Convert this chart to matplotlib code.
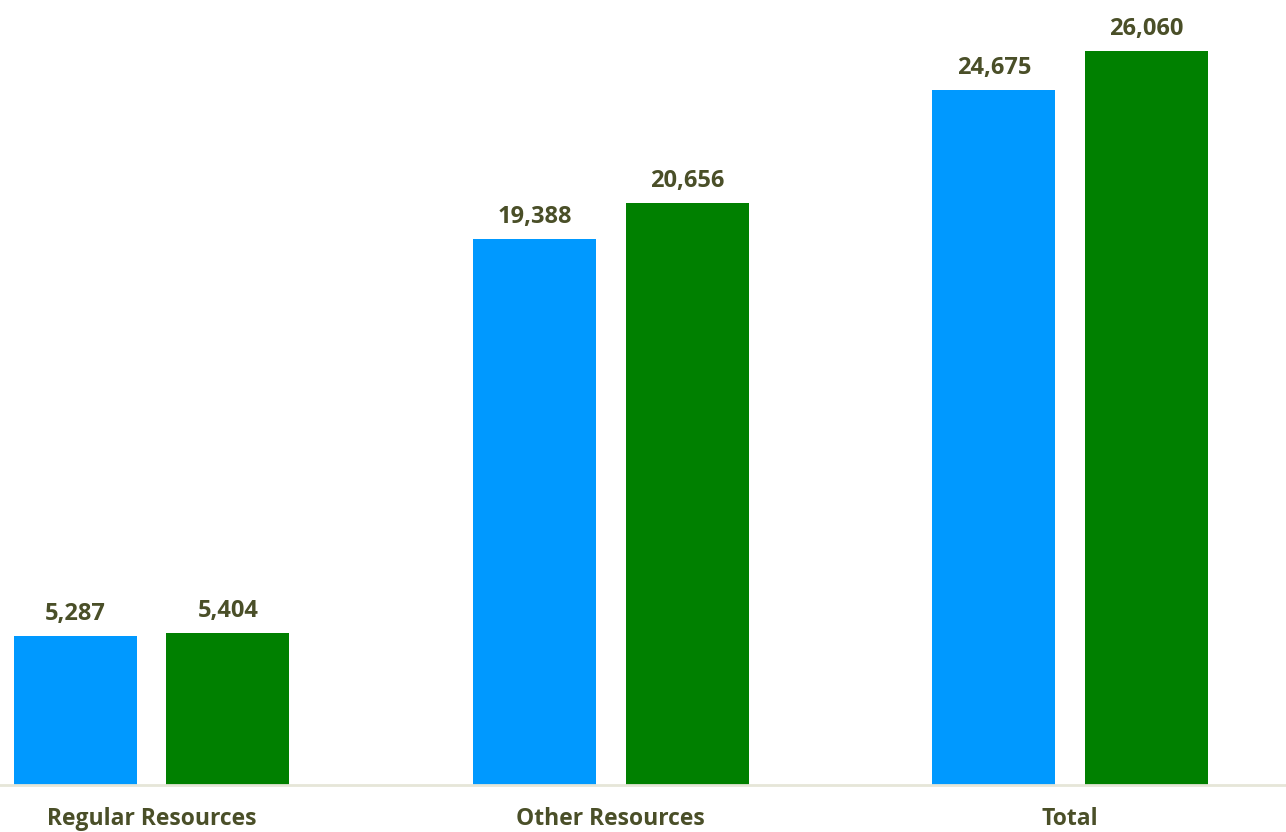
import matplotlib
matplotlib.use("Agg")
import matplotlib.pyplot as plt
import numpy as np

categories = ["Regular Resources", "Other Resources", "Total"]
series_a = [5287, 19388, 24675]
series_b = [5404, 20656, 26060]

blue = "#0099FF"
green = "#008000"
text_color = "#4A4F28"

plt.rcParams['font.family'] = ['Open Sans', 'DejaVu Sans']

fig = plt.figure(figsize=(12.86, 8.32), dpi=100)
ax = fig.add_axes([0, 47/832, 1, 785/832])

x = np.arange(len(categories))
w = 0.268
off = 0.166
ax.bar(x - off, series_a, width=w, color=blue, linewidth=0)
ax.bar(x + off, series_b, width=w, color=green, linewidth=0)

for xi, v in zip(x - off, series_a):
    ax.annotate(f"{v:,}", (xi, v), xytext=(0, 11.5), textcoords="offset points",
                ha="center", va="baseline", fontsize=17, fontweight="bold", color=text_color)
for xi, v in zip(x + off, series_b):
    ax.annotate(f"{v:,}", (xi, v), xytext=(0, 11.5), textcoords="offset points",
                ha="center", va="baseline", fontsize=17, fontweight="bold", color=text_color)

for xi, c in zip(x, categories):
    ax.text(xi, -40/785, c, transform=ax.get_xaxis_transform(), ha="center", va="baseline",
            fontsize=16.5, fontweight="bold", color=text_color, clip_on=False)

ax.set_xlim(-0.33, 2.47)
ax.set_ylim(0, 27870)
ax.axhline(0, color="#E6E6D8", linewidth=2, clip_on=False)
for s in ax.spines.values():
    s.set_visible(False)
ax.set_xticks([])
ax.set_yticks([])

fig.savefig("out.png", dpi=100)
